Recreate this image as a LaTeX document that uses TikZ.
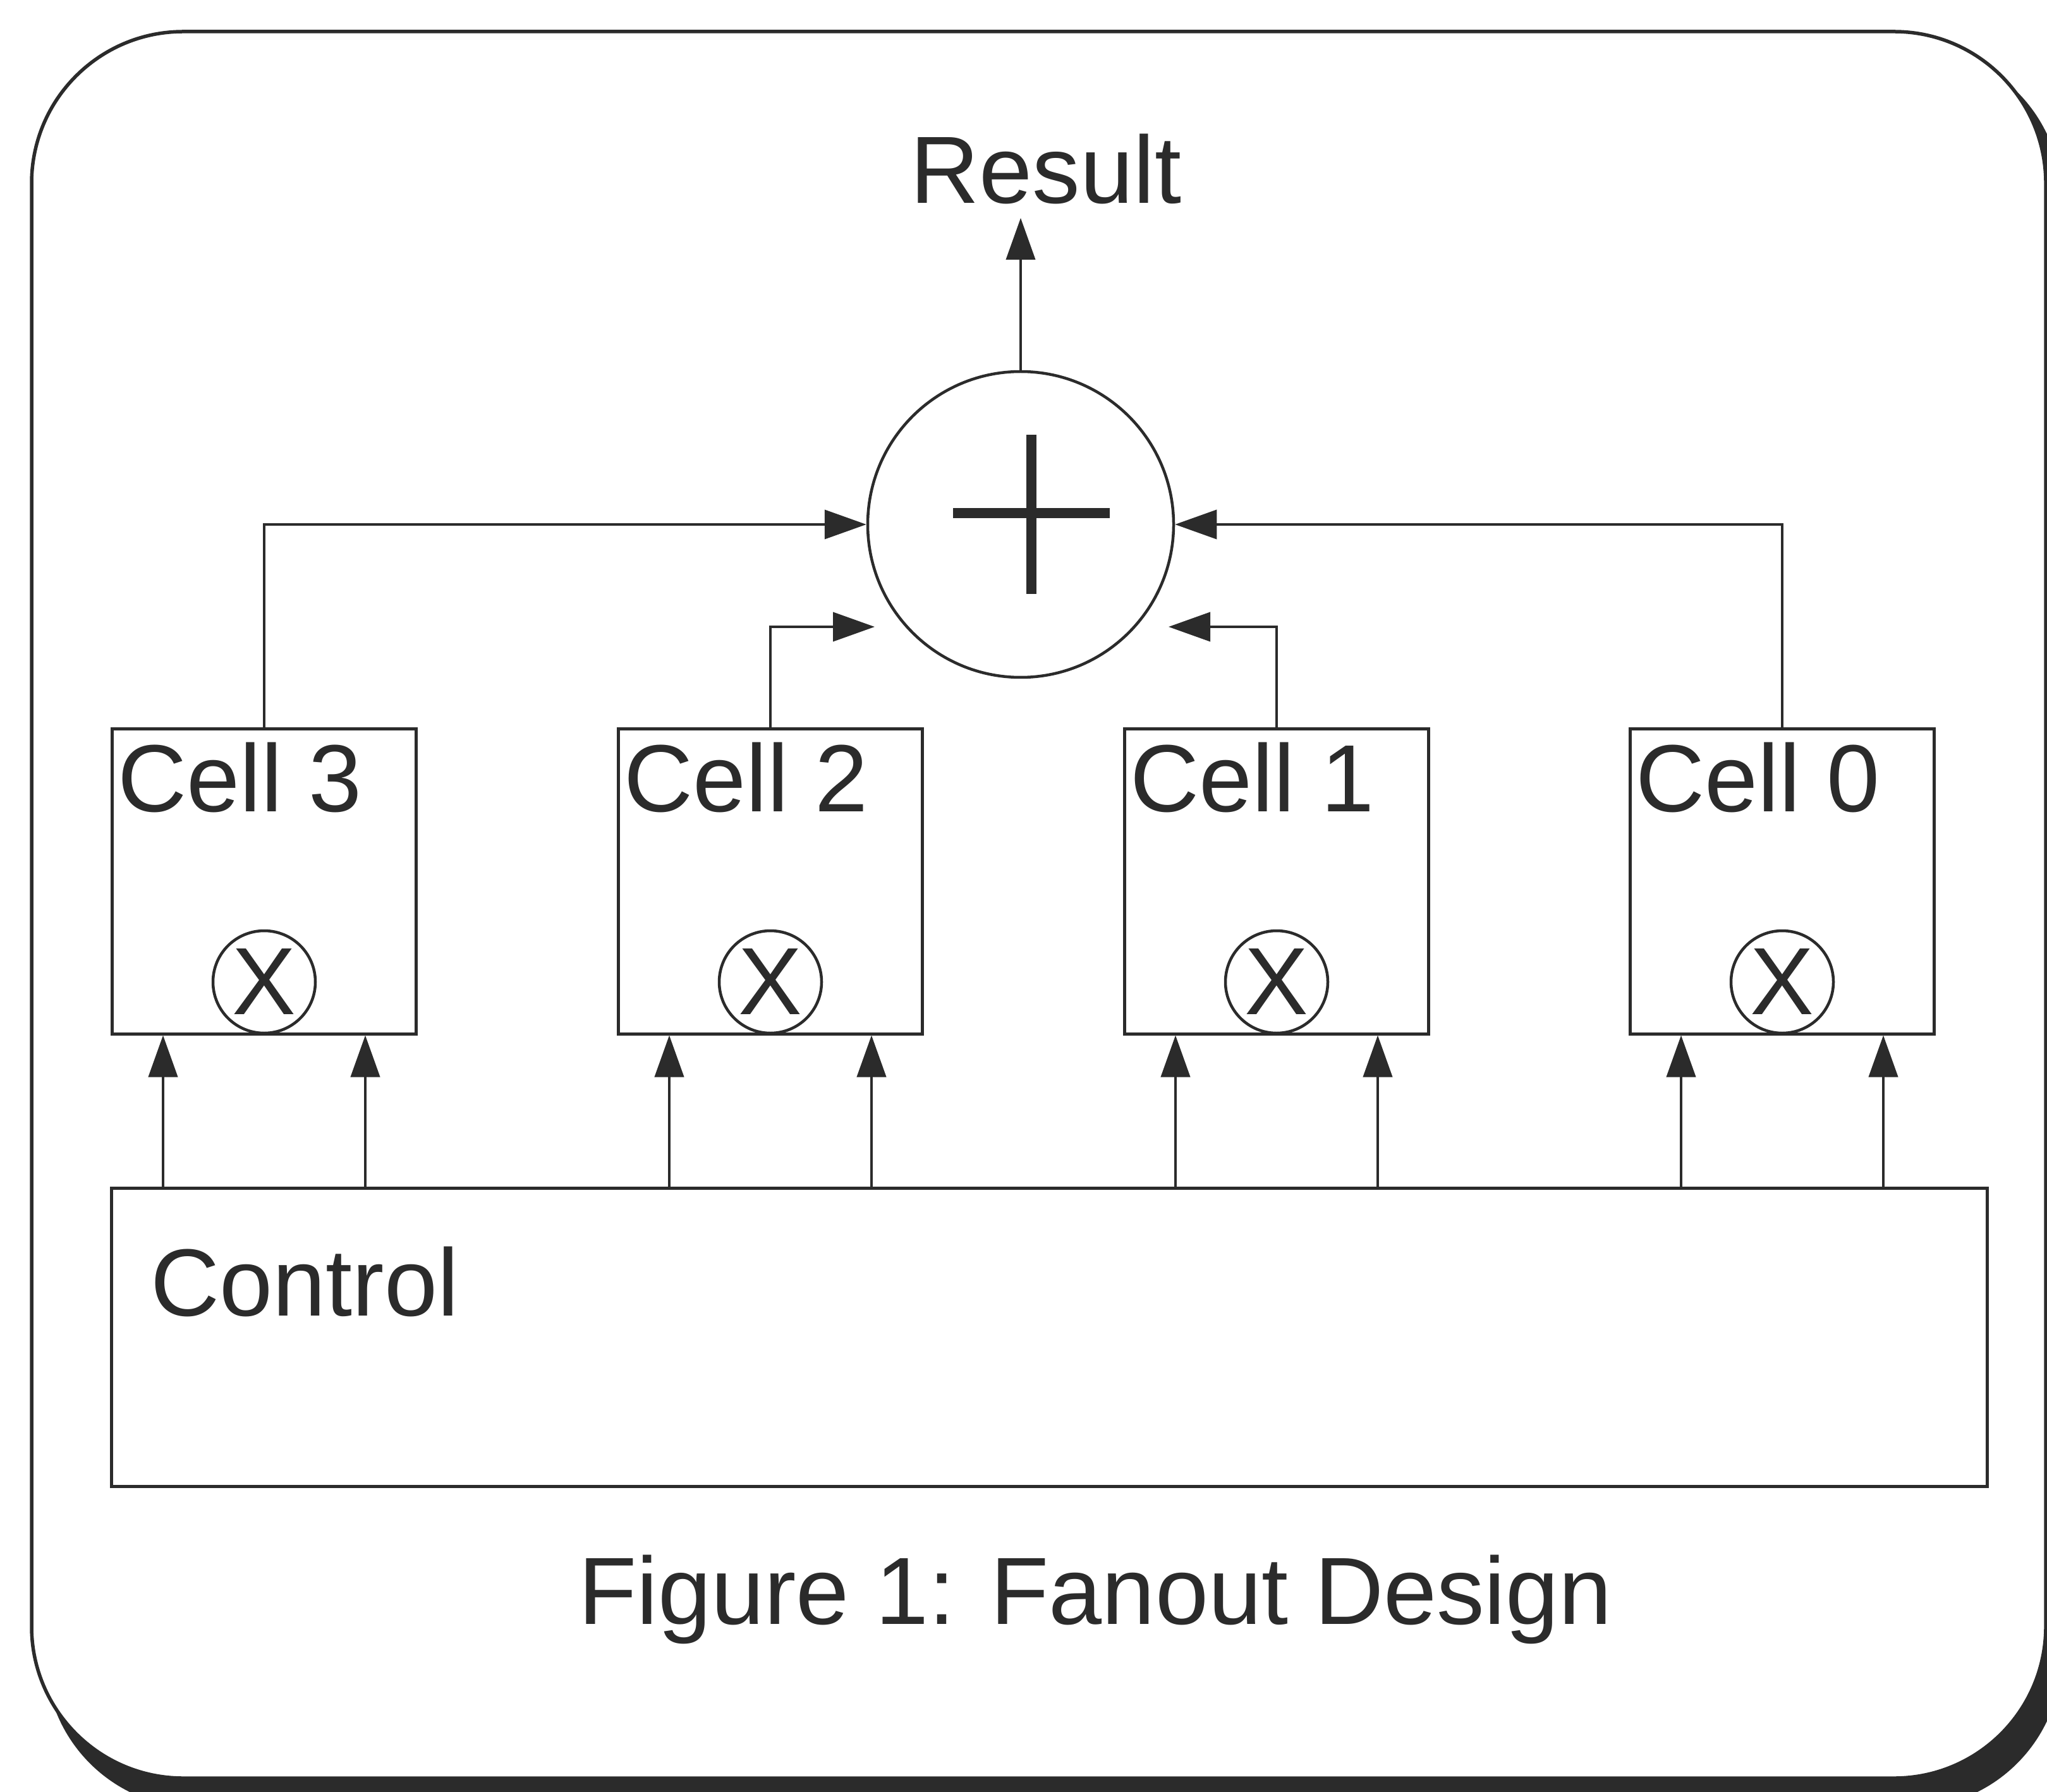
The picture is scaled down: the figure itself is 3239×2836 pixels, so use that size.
\documentclass[tikz,border=0pt]{standalone}
\usepackage{fontspec}
\setmainfont{Liberation Sans}
\usetikzlibrary{arrows.meta,shapes.geometric}
\definecolor{ink}{rgb}{0.17,0.17,0.17}
\begin{document}
\begin{tikzpicture}[x=0.1mm,y=-0.1mm,
  txt/.style={inner sep=0pt, text=ink, font=\fontsize{43pt}{50pt}\selectfont},
  cellbox/.style={draw=ink, line width=0.5mm, minimum width=48.1mm, minimum height=48.3mm, inner sep=0pt},
  mult/.style={draw=ink, line width=0.45mm, circle, minimum size=16.2mm, inner sep=0pt, text=ink, font=\fontsize{43pt}{50pt}\selectfont},
  conn/.style={draw=ink, line width=0.4mm, -{Triangle[length=6.6mm,width=4.6mm]}},
]
\useasboundingbox (0,0) rectangle (3239,2836);
\fill[white] (0,0) rectangle (3239,2836);
% frame with shadow
\fill[ink, rounded corners=24mm] (72,75) rectangle (3262,2861);
\filldraw[fill=white, draw=ink, line width=0.55mm, rounded corners=24mm] (50,50) rectangle (3237,2814);

% adder
\node[draw=ink, line width=0.45mm, circle, minimum size=48.4mm, inner sep=0pt] (sum) at (1615,830) {};
\draw[ink, line width=1.6mm] ([shift={(-107,-18)}]sum.center) -- ([shift={(141,-18)}]sum.center);
\draw[ink, line width=1.6mm] ([shift={(17,-142)}]sum.center) -- ([shift={(17,110)}]sum.center);

% result
\node[txt, anchor=base] (res) at (1655,322) {Result};
\coordinate (resin) at (1615,345);
\draw[conn] (sum.north) -- (resin);

% control
\node[cellbox, minimum width=296.8mm, minimum height=47.2mm] (ctrl) at (1660,2116) {};
\node[txt, anchor=base west] (ctrllab) at (238,2082) {Control};

% cells
\foreach \i/\x in {3/418,2/1219,1/2020,0/2820} {
  \node[cellbox] (c\i) at (\x,1394.5) {};
  \node[txt, anchor=base west] (l\i) at ([shift={(11,134)}]c\i.north west) {Cell \i};
  \node[mult] (m\i) at (\x,1554) {X};
  \draw[conn] ([xshift=-16mm]c\i.south |- ctrl.north) -- ([xshift=-16mm]c\i.south);
  \draw[conn] ([xshift=16mm]c\i.south |- ctrl.north) -- ([xshift=16mm]c\i.south);
}

% connectors to adder
\coordinate (in2) at (1384,992);
\coordinate (in1) at (1849,992);
\draw[conn] (c3.north) |- (sum.west);
\draw[conn] (c0.north) |- (sum.east);
\draw[conn] (c2.north) |- (in2);
\draw[conn] (c1.north) |- (in1);

% caption
\node[txt, anchor=base] (cap) at (1733,2570) {Figure 1: Fanout Design};
\end{tikzpicture}
\end{document}
